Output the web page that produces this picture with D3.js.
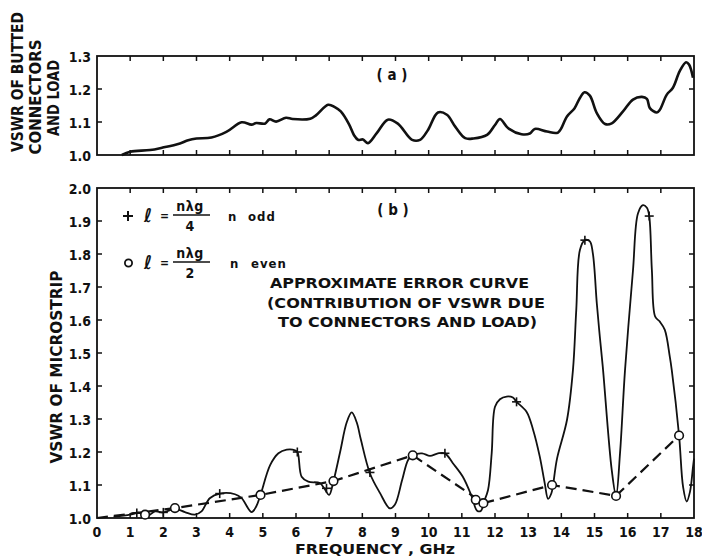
<!DOCTYPE html>
<html>
<head>
<meta charset="utf-8">
<script src="https://cdn.jsdelivr.net/npm/d3@7"></script>
<style>
  html, body { margin: 0; padding: 0; background: #fff; }
  svg { display: block; }
  text { font-family: "DejaVu Sans Condensed", "DejaVu Sans", sans-serif; font-weight: bold; fill: #111; }
</style>
</head>
<body>
<svg id="chart" width="702" height="558"></svg>
<script>
// Frequency tick labels (GHz)
const freqLabels = ["0","1","2","3","4","5","6","7","8","9","10","11","12","13","14","15","16","17","18"];
const topYLabels = ["1.0","1.1","1.2","1.3"];
const bottomYLabels = ["1.0","1.1","1.2","1.3","1.4","1.5","1.6","1.7","1.8","1.9","2.0"];

// (a) VSWR of butted connectors and load: [GHz, VSWR]
const buttedVSWR = [
  [0.75,1.0],[1.0,1.01],[1.6,1.015],[1.96,1.022],[2.5,1.035],[2.75,1.045],[3.0,1.05],
  [3.45,1.053],[3.9,1.07],[4.36,1.099],[4.66,1.092],[4.8,1.097],[5.06,1.095],[5.2,1.108],
  [5.4,1.101],[5.7,1.113],[5.9,1.109],[6.43,1.11],[6.6,1.12],[6.97,1.152],[7.17,1.145],
  [7.35,1.132],[7.6,1.093],[7.75,1.06],[7.87,1.046],[8.02,1.047],[8.17,1.036],[8.44,1.067],
  [8.77,1.107],[9.07,1.095],[9.5,1.046],[9.74,1.046],[9.98,1.076],[10.28,1.129],[10.55,1.122],
  [10.8,1.086],[11.1,1.051],[11.35,1.05],[11.76,1.061],[12.0,1.091],[12.15,1.109],[12.4,1.081],
  [12.8,1.063],[13.05,1.065],[13.2,1.079],[13.57,1.071],[13.9,1.068],[14.17,1.117],[14.4,1.142],
  [14.56,1.173],[14.7,1.19],[14.86,1.18],[15.07,1.127],[15.32,1.094],[15.52,1.096],[15.86,1.132],
  [16.16,1.168],[16.43,1.176],[16.58,1.17],[16.67,1.142],[16.88,1.129],[16.97,1.137],[17.18,1.183],
  [17.36,1.203],[17.57,1.254],[17.76,1.281],[17.85,1.274],[17.97,1.234]
];

// (b) VSWR of microstrip: [GHz, VSWR]
const microstripVSWR = [
  [0.5,1.004],[1.0,1.01],[1.25,1.016],[1.5,1.005],[1.75,1.02],[2.0,1.017],[2.35,1.028],
  [2.65,1.018],[2.95,1.01],[3.15,1.02],[3.4,1.06],[3.7,1.074],[4.16,1.072],[4.36,1.06],
  [4.66,1.018],[4.8,1.035],[4.93,1.07],[5.22,1.16],[5.47,1.196],[5.72,1.207],[5.97,1.205],
  [6.05,1.198],[6.17,1.125],[6.37,1.11],[6.72,1.106],[6.85,1.09],[7.0,1.07],[7.13,1.112],
  [7.33,1.2],[7.53,1.29],[7.68,1.32],[7.83,1.29],[7.95,1.24],[8.23,1.135],[8.53,1.076],
  [8.83,1.029],[8.98,1.04],[9.2,1.115],[9.38,1.176],[9.52,1.19],[9.8,1.196],[10.04,1.188],
  [10.28,1.196],[10.49,1.196],[10.73,1.166],[11.03,1.125],[11.3,1.065],[11.46,1.022],
  [11.58,1.022],[11.65,1.045],[11.79,1.085],[11.9,1.196],[12.0,1.337],[12.15,1.36],
  [12.35,1.368],[12.54,1.365],[12.65,1.352],[12.95,1.322],[13.15,1.267],[13.35,1.186],
  [13.5,1.105],[13.6,1.058],[13.7,1.075],[13.75,1.1],[13.87,1.18],[14.17,1.297],[14.35,1.448],
  [14.45,1.63],[14.56,1.812],[14.71,1.842],[14.86,1.838],[14.95,1.802],[15.07,1.65],
  [15.16,1.55],[15.25,1.458],[15.52,1.145],[15.65,1.067],[15.77,1.197],[15.92,1.448],
  [16.16,1.75],[16.31,1.923],[16.46,1.948],[16.58,1.94],[16.65,1.915],[16.73,1.751],
  [16.83,1.61],[16.97,1.595],[17.12,1.57],[17.27,1.489],[17.33,1.448],[17.55,1.25],
  [17.67,1.095],[17.78,1.05],[17.88,1.08],[17.97,1.155],[18.0,1.18]
];

// Approximate error curve (contribution of connectors and load)
const errorCurve = [
  [0,1.0],[2.35,1.03],[4.93,1.07],[7.13,1.112],[9.52,1.19],[11.65,1.045],
  [13.72,1.1],[15.65,1.067],[17.55,1.25]
];

// Markers: + for l = n·λg/4 (n odd), o for l = n·λg/2 (n even)
const oddPoints = [
  [1.2,1.015],[2.0,1.017],[3.7,1.074],[6.04,1.2],[6.92,1.09],[8.23,1.138],
  [10.49,1.196],[12.65,1.352],[14.71,1.842],[16.65,1.915]
];
const evenPoints = [
  [1.45,1.01],[2.35,1.03],[4.93,1.07],[7.13,1.112],[9.52,1.19],[11.42,1.055],
  [11.65,1.045],[13.72,1.1],[15.65,1.067],[17.55,1.25]
];

const svg = d3.select("#chart");
const ink = "#111";

const x = d3.scaleLinear().domain([0, 18]).range([97, 694]);
const yTop = d3.scaleLinear().domain([1.0, 1.3]).range([155, 56]);
const yBot = d3.scaleLinear().domain([1.0, 2.0]).range([518, 188]);

// Panel frame with inward-pointing ticks on all four sides
function panel(y, yLabels) {
  const g = svg.append("g");
  const [x0, x1] = x.range();
  const [yb, yt] = y.range();
  g.append("rect")
    .attr("x", x0).attr("y", yt).attr("width", x1 - x0).attr("height", yb - yt)
    .attr("fill", "none").attr("stroke", ink).attr("stroke-width", 1.8);

  const len = 5;
  const fTicks = freqLabels.map(Number).slice(1, -1);
  g.selectAll(".xt").data(fTicks).enter().append("line")
    .attr("x1", d => x(d)).attr("x2", d => x(d)).attr("y1", yt).attr("y2", yt + len)
    .attr("stroke", ink).attr("stroke-width", 1.5);
  g.selectAll(".xb").data(fTicks).enter().append("line")
    .attr("x1", d => x(d)).attr("x2", d => x(d)).attr("y1", yb).attr("y2", yb - len)
    .attr("stroke", ink).attr("stroke-width", 1.5);

  const vTicks = yLabels.map(Number).slice(1, -1);
  g.selectAll(".yl").data(vTicks).enter().append("line")
    .attr("x1", x0).attr("x2", x0 + len).attr("y1", d => y(d)).attr("y2", d => y(d))
    .attr("stroke", ink).attr("stroke-width", 1.5);
  g.selectAll(".yr").data(vTicks).enter().append("line")
    .attr("x1", x1).attr("x2", x1 - len).attr("y1", d => y(d)).attr("y2", d => y(d))
    .attr("stroke", ink).attr("stroke-width", 1.5);

  g.selectAll(".ylab").data(yLabels).enter().append("text")
    .attr("x", 91).attr("y", d => y(+d) + 5.5)
    .attr("text-anchor", "end").attr("font-size", 14)
    .text(d => d);
  return g;
}

panel(yTop, topYLabels);
panel(yBot, bottomYLabels);

// Frequency labels under the lower panel
svg.selectAll(".flab").data(freqLabels).enter().append("text")
  .attr("x", d => x(+d)).attr("y", 537)
  .attr("text-anchor", "middle").attr("font-size", 14)
  .text(d => d);

const lineTop = d3.line().x(d => x(d[0])).y(d => yTop(d[1])).curve(d3.curveCatmullRom.alpha(0.5));
const lineBot = d3.line().x(d => x(d[0])).y(d => yBot(d[1])).curve(d3.curveCatmullRom.alpha(0.5));
const lineStraight = d3.line().x(d => x(d[0])).y(d => yBot(d[1]));

svg.append("path").attr("d", lineTop(buttedVSWR))
  .attr("fill", "none").attr("stroke", ink).attr("stroke-width", 2.6)
  .attr("stroke-linejoin", "round");

svg.append("path").attr("d", lineBot(microstripVSWR))
  .attr("fill", "none").attr("stroke", ink).attr("stroke-width", 1.8)
  .attr("stroke-linejoin", "round");

svg.append("path").attr("d", lineStraight(errorCurve))
  .attr("fill", "none").attr("stroke", ink).attr("stroke-width", 2.2)
  .attr("stroke-dasharray", "11,6");

// + markers
const pSize = 4.5;
const plus = svg.append("g").selectAll("g").data(oddPoints).enter().append("g")
  .attr("transform", d => `translate(${x(d[0])},${yBot(d[1])})`);
plus.append("line").attr("x1", -pSize).attr("x2", pSize).attr("stroke", ink).attr("stroke-width", 1.6);
plus.append("line").attr("y1", -pSize).attr("y2", pSize).attr("stroke", ink).attr("stroke-width", 1.6);

// o markers
svg.append("g").selectAll("circle").data(evenPoints).enter().append("circle")
  .attr("cx", d => x(d[0])).attr("cy", d => yBot(d[1])).attr("r", 4.3)
  .attr("fill", "#fff").attr("stroke", ink).attr("stroke-width", 1.6);

// Panel tags
svg.append("text").attr("x", 392).attr("y", 80).attr("text-anchor", "middle")
  .attr("font-size", 15).text("( a )");
svg.append("text").attr("x", 393).attr("y", 215).attr("text-anchor", "middle")
  .attr("font-size", 15).text("( b )");

// Axis titles
function vText(cx, cy, len, str) {
  svg.append("text")
    .attr("transform", `translate(${cx},${cy}) rotate(-90)`)
    .attr("text-anchor", "middle").attr("font-size", 15)
    .attr("textLength", len).attr("lengthAdjust", "spacingAndGlyphs")
    .text(str);
}
vText(23, 82, 140, "VSWR OF BUTTED");
vText(41, 97, 115, "CONNECTORS");
vText(59, 98, 76, "AND LOAD");
vText(62, 367, 193, "VSWR OF MICROSTRIP");

svg.append("text").attr("x", 295).attr("y", 554).attr("font-size", 14)
  .attr("textLength", 160).attr("lengthAdjust", "spacingAndGlyphs")
  .text("FREQUENCY , GHz");

// Approximate error curve note
const note = [
  ["APPROXIMATE ERROR CURVE", 270, 288, 259],
  ["(CONTRIBUTION OF VSWR DUE", 267, 308, 278],
  ["TO CONNECTORS AND LOAD)", 278, 327, 259]
];
svg.selectAll(".note").data(note).enter().append("text")
  .attr("x", d => d[1]).attr("y", d => d[2]).attr("font-size", 14)
  .attr("textLength", d => d[3]).attr("lengthAdjust", "spacingAndGlyphs")
  .text(d => d[0]);

// Marker key with fractions
function keyRow(yMid, symbol, denom, word, nx, wx) {
  const g = svg.append("g");
  if (symbol === "+") {
    g.append("line").attr("x1", 123).attr("x2", 133).attr("y1", yMid).attr("y2", yMid).attr("stroke", ink).attr("stroke-width", 2);
    g.append("line").attr("x1", 128).attr("x2", 128).attr("y1", yMid - 5).attr("y2", yMid + 5).attr("stroke", ink).attr("stroke-width", 2);
  } else {
    g.append("circle").attr("cx", 128.5).attr("cy", yMid).attr("r", 3.6)
      .attr("fill", "#fff").attr("stroke", ink).attr("stroke-width", 1.8);
  }
  g.append("text").attr("x", 148).attr("y", yMid + 6).attr("text-anchor", "middle")
    .attr("font-size", 19).attr("font-style", "italic").text("ℓ");
  g.append("text").attr("x", 164.5).attr("y", yMid + 4).attr("text-anchor", "middle")
    .attr("font-size", 12).text("=");
  g.append("text").attr("x", 190).attr("y", yMid - 5).attr("text-anchor", "middle")
    .attr("font-size", 14).attr("letter-spacing", 0.5).text("nλg");
  g.append("line").attr("x1", 173).attr("x2", 210).attr("y1", yMid - 1).attr("y2", yMid - 1)
    .attr("stroke", ink).attr("stroke-width", 1.6);
  g.append("text").attr("x", 190).attr("y", yMid + 15).attr("text-anchor", "middle")
    .attr("font-size", 14).text(denom);
  g.append("text").attr("x", nx).attr("y", yMid + 5).attr("font-size", 13).text("n");
  g.append("text").attr("x", wx).attr("y", yMid + 5).attr("font-size", 13)
    .attr("letter-spacing", 1).text(word);
}
keyRow(216, "+", "4", "odd", 228, 248);
keyRow(263, "o", "2", "even", 230, 251);
</script>
</body>
</html>
